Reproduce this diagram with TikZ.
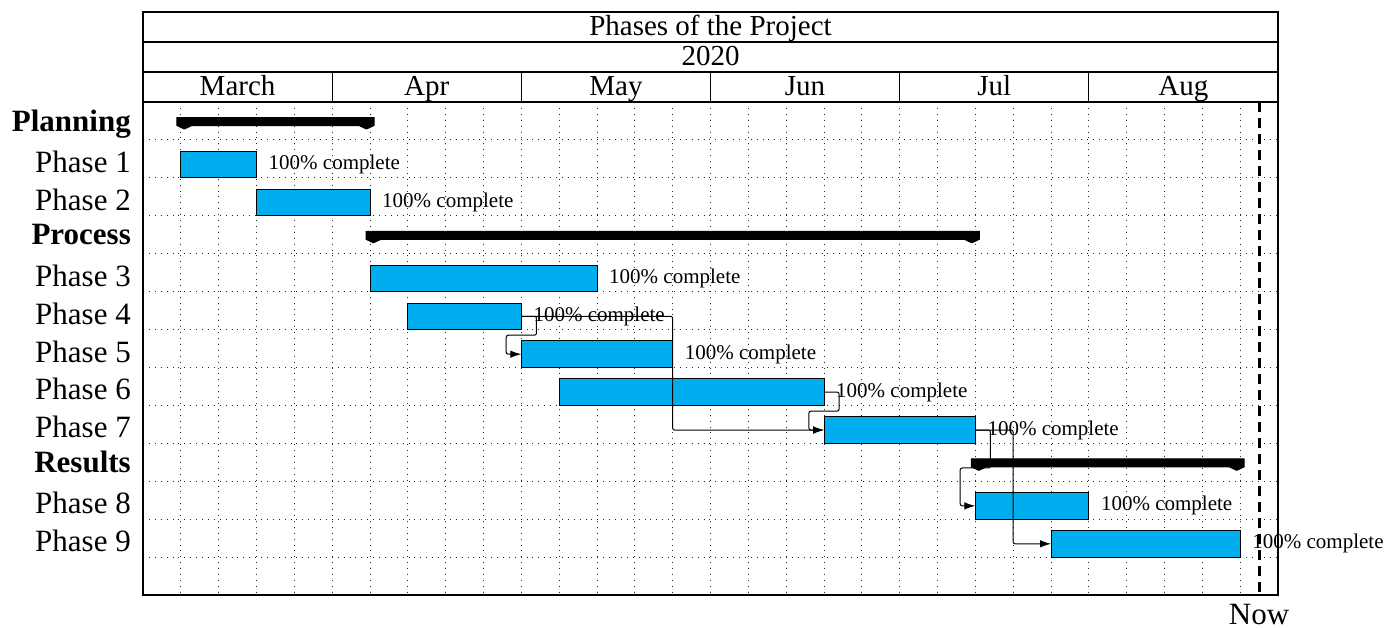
\documentclass[tikz,border=0pt]{standalone}
\usepackage{fontspec}
\setmainfont{Liberation Serif}
\usetikzlibrary{arrows.meta,calc}
\definecolor{barblue}{RGB}{0,174,239}

% unit width (one grid column) and row height, in pt
\def\U{37.8333}
\def\R{37.923}

% task bar: name, row, first unit, last unit
\newcommand{\taskbar}[4]{%
  \node[taskbox, minimum width={(#4-#3)*\U}, anchor=north west]
    (#1) at ({143+#3*\U}, {102+#2*\R+11.4}) {};
  \node[donelabel] (#1-lbl) at ([xshift=12pt]#1.east) {100\% complete};
}
% summary bar with small peaks: name, row, first unit, last unit
\newcommand{\summarybar}[4]{%
  \pgfmathsetmacro\gl{143+#3*\U}%
  \pgfmathsetmacro\gr{143+#4*\U}%
  \pgfmathsetmacro\gt{102+#2*\R+15.5}%
  \pgfmathsetmacro\gb{\gt+8}%
  \draw[groupbar] (\gl-4,\gt) -- (\gr+4,\gt) -- (\gr+4,\gb) -- (\gr-3.5,\gb+3.5)
    -- (\gr-11,\gb) -- (\gl+11,\gb) -- (\gl+3.5,\gb+3.5) -- (\gl-4,\gb) -- cycle;
  \coordinate (#1) at (\gl,\gt);
}

\begin{document}
\begin{tikzpicture}[x=1pt,y=-1pt,
  frame/.style={line width=1.2pt},
  gridline/.style={line width=0.9pt, dash pattern=on 0.9pt off 5pt, black!85},
  taskbox/.style={draw=black, fill=barblue, line width=0.9pt, minimum height=26.5pt,
    inner sep=0pt, outer sep=0pt},
  grouptext/.style={font=\fontsize{31}{36}\selectfont\bfseries, anchor=base east, inner sep=0pt},
  tasktext/.style={font=\fontsize{31}{36}\selectfont, anchor=base east, inner sep=0pt},
  headtext/.style={font=\fontsize{29}{34}\selectfont, anchor=base, inner sep=0pt},
  donelabel/.style={font=\fontsize{21}{25}\selectfont, anchor=west, inner sep=0pt},
  linkline/.style={line width=1pt, rounded corners=2pt, -{Latex[length=11pt,width=7.5pt]}},
  groupbar/.style={fill=black, draw=black, line width=1pt, line join=round},
  nowline/.style={line width=3pt, dash pattern=on 10pt off 6pt}
]
\useasboundingbox (0,0) rectangle (1387,627);

% dotted grid
\foreach \k in {1,...,29}
  \draw[gridline] ({143+\k*\U},102) -- ({143+\k*\U},595);
\foreach \k in {1,...,12}
  \draw[gridline] (143,{102+\k*\R}) -- (1278,{102+\k*\R});

% frame and header
\draw[frame] (143,12) rectangle (1278,595);
\draw[frame] (143,42) -- (1278,42);
\draw[frame] (143,72) -- (1278,72);
\draw[frame] (143,102) -- (1278,102);
\foreach \m in {1,...,5}
  \draw[frame] ({143+\m*5*\U},72) -- ({143+\m*5*\U},102);

\node[headtext] (title) at (710.5,35) {Phases of the Project};
\node[headtext] (year) at (710.5,65) {2020};
\foreach \name [count=\i from 0] in {March,Apr,May,Jun,Jul,Aug}
  \node[headtext] (month\i) at ({143+(\i+0.5)*5*\U},95) {\name};

% row titles
\node[grouptext] (lplan) at (131,{102+0*\R+29}) {Planning};
\node[tasktext] (l1) at (131,{102+1*\R+32.5}) {Phase 1};
\node[tasktext] (l2) at (131,{102+2*\R+32.5}) {Phase 2};
\node[grouptext] (lproc) at (131,{102+3*\R+29}) {Process};
\node[tasktext] (l3) at (131,{102+4*\R+32.5}) {Phase 3};
\node[tasktext] (l4) at (131,{102+5*\R+32.5}) {Phase 4};
\node[tasktext] (l5) at (131,{102+6*\R+32.5}) {Phase 5};
\node[tasktext] (l6) at (131,{102+7*\R+32.5}) {Phase 6};
\node[tasktext] (l7) at (131,{102+8*\R+32.5}) {Phase 7};
\node[grouptext] (lres) at (131,{102+9*\R+29}) {Results};
\node[tasktext] (l8) at (131,{102+10*\R+32.5}) {Phase 8};
\node[tasktext] (l9) at (131,{102+11*\R+32.5}) {Phase 9};

% summary bars
\summarybar{gplan}{0}{1}{6}
\summarybar{gproc}{3}{6}{22}
\summarybar{gres}{9}{22}{29}

% task bars
\taskbar{p1}{1}{1}{3}
\taskbar{p2}{2}{3}{6}
\taskbar{p3}{4}{6}{12}
\taskbar{p4}{5}{7}{10}
\taskbar{p5}{6}{10}{14}
\taskbar{p6}{7}{11}{18}
\taskbar{p7}{8}{18}{22}
\taskbar{p8}{10}{22}{25}
\taskbar{p9}{11}{24}{29}

% dependencies
\coordinate (m45) at ($(p4.east)!.5!(p5.west)$);
\coordinate (m67) at ($(p6.east)!.5!(p7.west)$);
\coordinate (m78) at ($(p7.east)!.5!(p8.west)$);
\draw[linkline] (p4.east) -- ++(15.1,0) |- ($(m45 -| p5.west)+(-15.1,0)$) |- (p5.west);
\draw[linkline] (p6.east) -- ++(15.1,0) |- ($(m67 -| p7.west)+(-15.1,0)$) |- (p7.west);
\draw[linkline] (p7.east) -- ++(15.1,0) |- ($(m78 -| p8.west)+(-15.1,0)$) |- (p8.west);
\draw[linkline] (p4.east) -| ($(p4.east)!.5!(p7.west)$) |- (p7.west);
\draw[linkline] (p7.east) -| ($(p7.east)!.5!(p9.west)$) |- (p9.west);

% today marker
\coordinate (nowtop) at ({143+29.5*\U},102);
\coordinate (nowbot) at ({143+29.5*\U},595);
\draw[nowline] (nowtop) -- (nowbot);
\node[font=\fontsize{31}{36}\selectfont, anchor=base, inner sep=0pt] (now) at ({143+29.5*\U},624.5) {Now};
\end{tikzpicture}
\end{document}
